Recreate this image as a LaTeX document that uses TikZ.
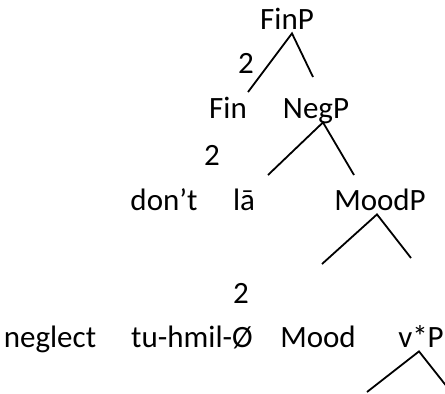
\documentclass[tikz,border=0pt]{standalone}
\usepackage{fontspec}
\setmainfont{Carlito}
\usetikzlibrary{positioning}
\begin{document}
\begin{tikzpicture}[x=1pt, y=-1pt,
    cat/.style={font=\fontsize{31}{36}\selectfont, inner sep=2pt, text depth=0.22em, anchor=base},
    branch/.style={line width=1.8pt}]
            \useasboundingbox (0,0) rectangle (445,394);
            \clip (0,0) rectangle (445,394);

            % labels of the tree
            \node (finp) [cat] at (287, 29) {FinP};
            \node (two1) [cat] at (246, 73) {2};
            \node (fin) [cat] at (228, 118) {Fin};
            \node (negp) [cat] at (316, 118) {NegP};
            \node (two2) [cat] at (212, 165) {2};
            \node (dont) [cat] at (164, 210) {don’t};
            \node (la) [cat] at (244, 210) {lā};
            \node (moodp) [cat] at (380, 210) {MoodP};
            \node (two3) [cat] at (241, 303) {2};
            \node (neglect) [cat] at (50, 347) {neglect};
            \node (tuhmil) [cat] at (192, 347) {tu-hmil-Ø};
            \node (mood) [cat] at (318, 347) {Mood};
            \node (vp) [cat] at (421, 347) {v*P};

            % free ends of the branches
            \coordinate (finp-l) at (248, 92);
            \coordinate (finp-r) at (313, 77);
            \coordinate (negp-l) at (268, 175);
            \coordinate (negp-r) at (354, 175);
            \coordinate (moodp-l) at (322, 264);
            \coordinate (moodp-r) at (411, 258);
            \coordinate (vp-l) at (367, 392);
            \coordinate (vp-r) at (459, 402);

            \draw [branch] (finp-l) -- ([xshift=5pt]finp.south) -- (finp-r);
            \draw [branch] (negp-l) -- ([xshift=7pt]negp.south) -- (negp-r);
            \draw [branch] (moodp-l) -- ([xshift=-3pt]moodp.south) -- (moodp-r);
            \draw [branch] (vp-l) -- ([xshift=-2pt]vp.south) -- (vp-r);
        \end{tikzpicture}
\end{document}
